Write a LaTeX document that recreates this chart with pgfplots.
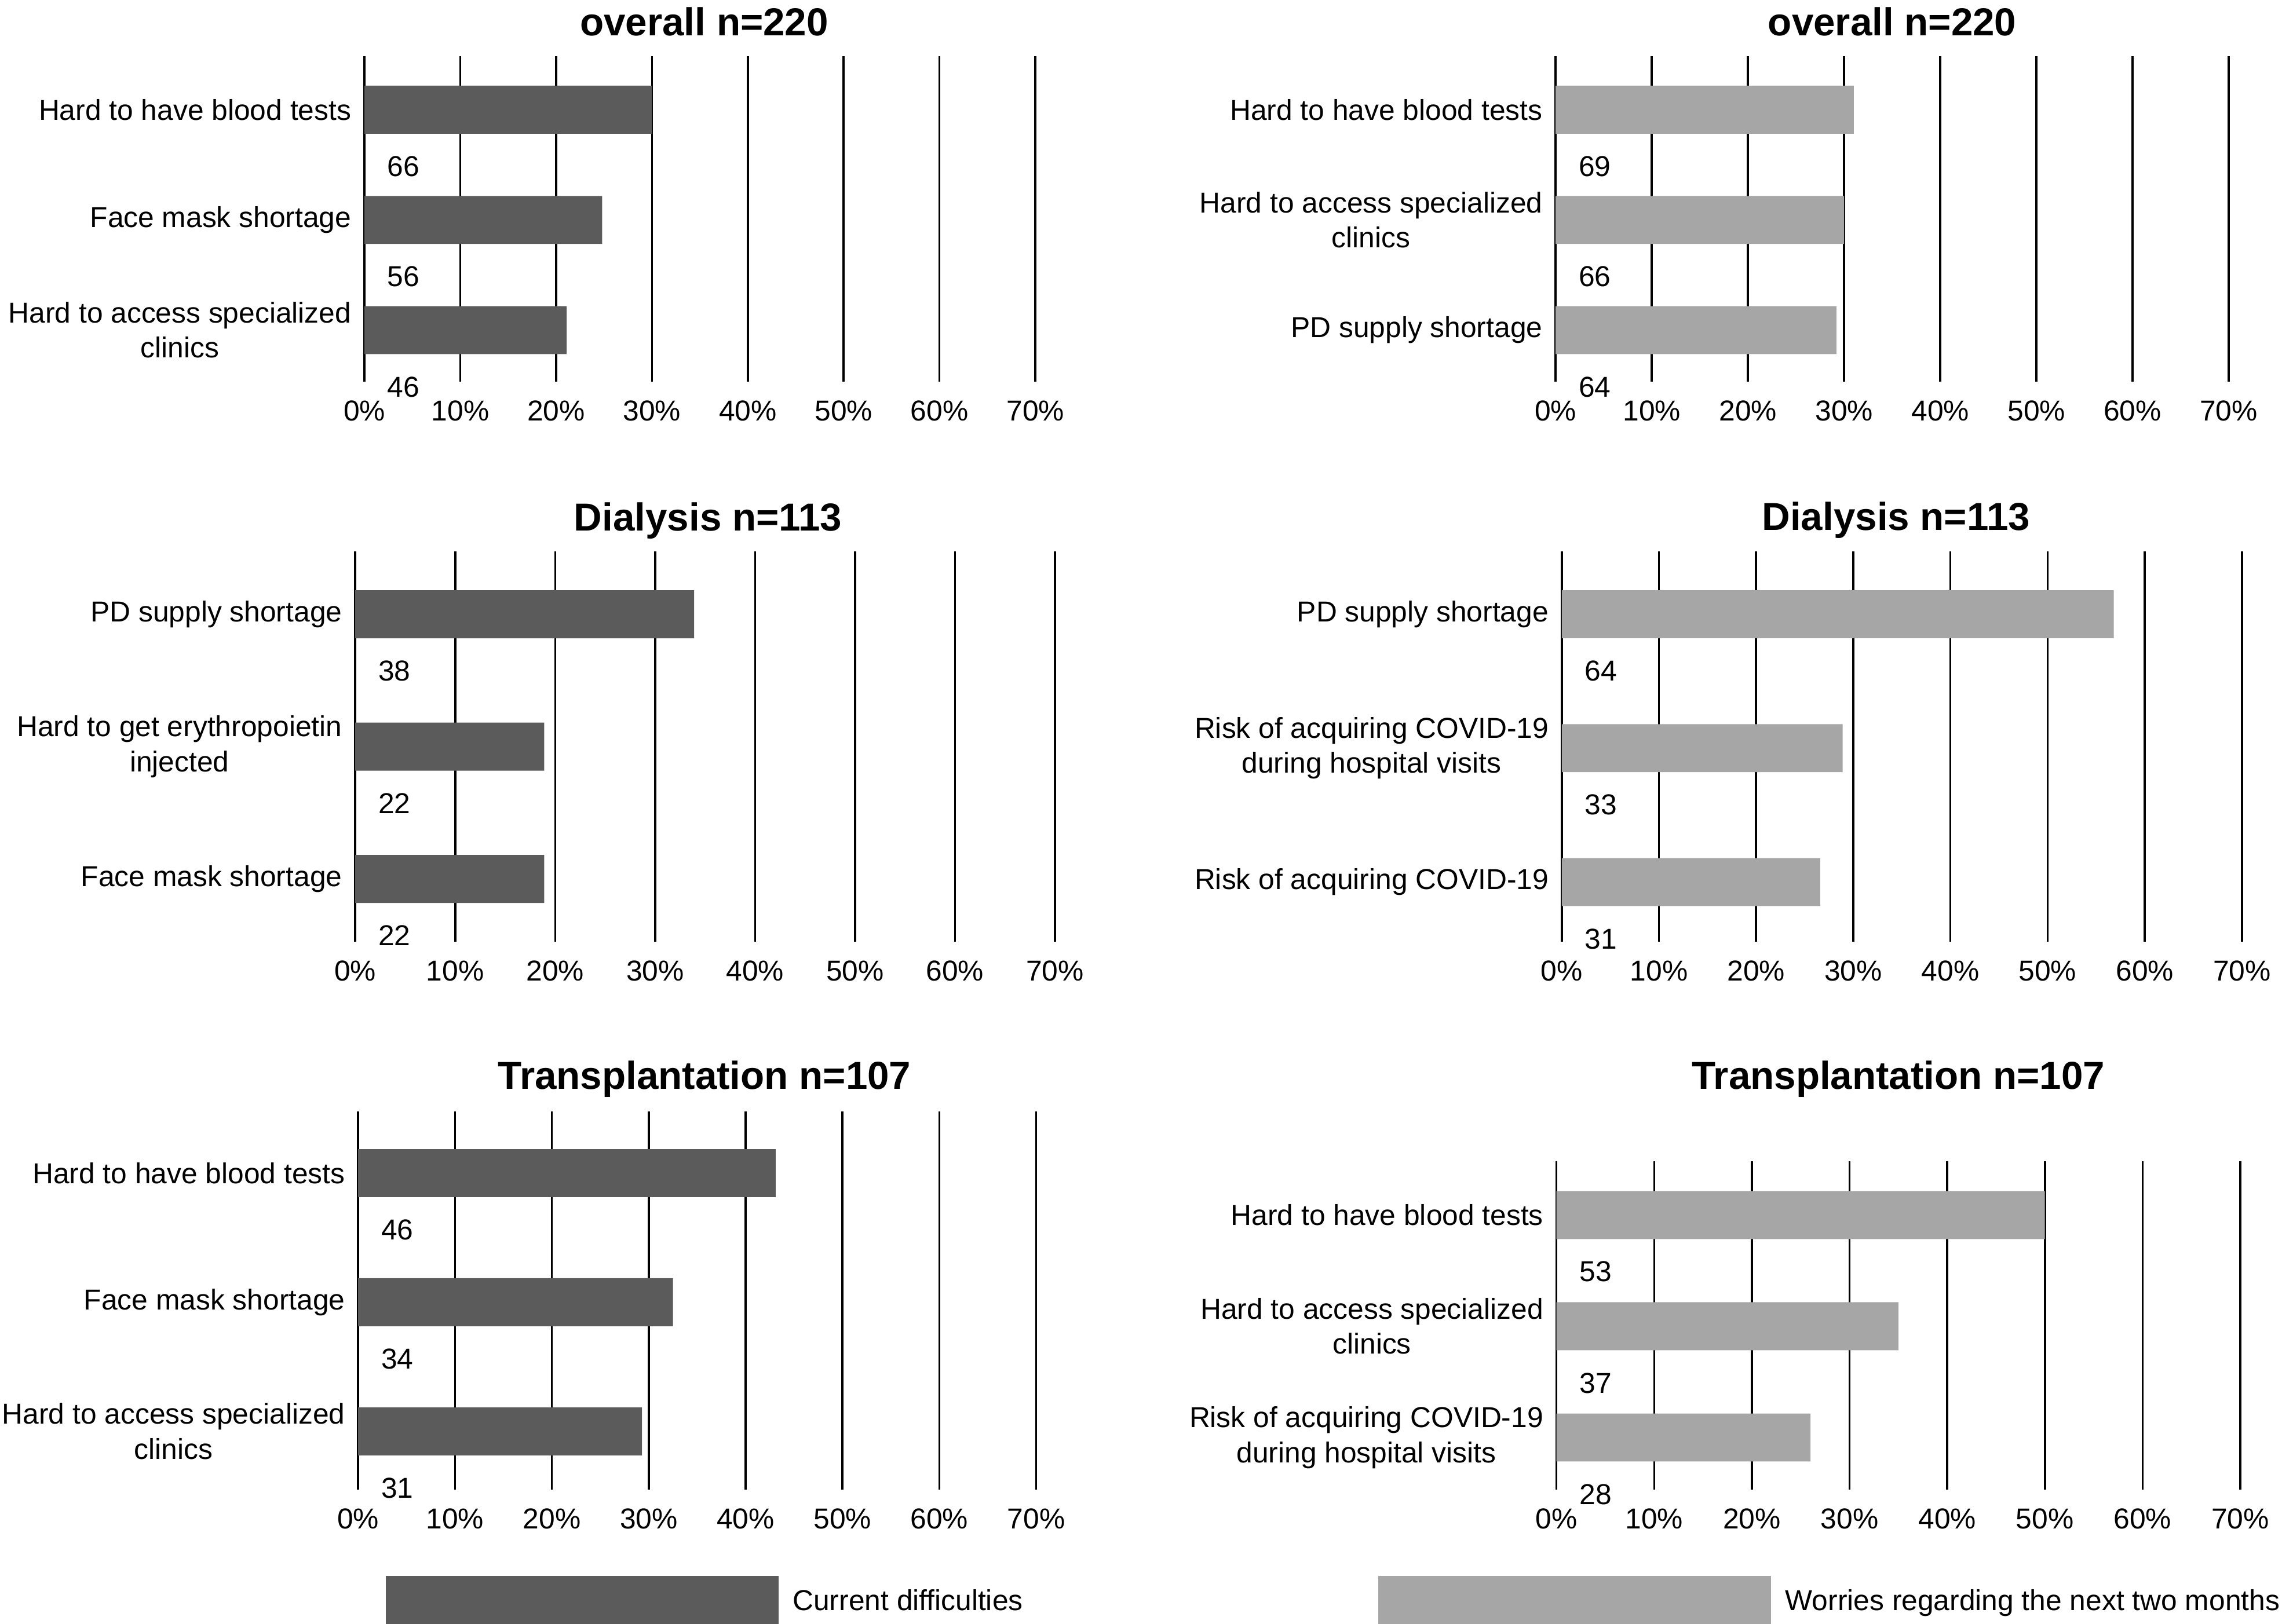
\documentclass[border=0pt]{standalone}
\usepackage{pgfplots}
\pgfplotsset{compat=1.18}
\usepackage{fontspec}
\setmainfont{Liberation Sans}
\definecolor{dark}{RGB}{91,91,91}
\definecolor{light}{RGB}{166,166,166}
\newcommand{\tf}{\fontsize{9.9}{12}\selectfont}
\pgfplotsset{
  panel/.style={
    scale only axis, anchor=south west, clip=false,
    xmin=0, xmax=70, xtick={0,10,...,70},
    xticklabels={0\%,10\%,20\%,30\%,40\%,50\%,60\%,70\%},
    xmajorgrids, grid style={black, line width=0.7pt},
    axis line style={draw=none}, major tick length=0pt, tick style={draw=none},
    ytick={1,2,3},
    yticklabel style={align=center, font=\tf, xshift=-1pt},
    xticklabel style={font=\tf, anchor=center, yshift=-10pt},
    title style={font=\bfseries\fontsize{13.4}{15}\selectfont, anchor=center, at={(0.5,1)}, yshift=4.6pt},
    /pgf/number format/assume math mode=true,
  },
  cnt/.style={draw=none, mark=none, forget plot, nodes near coords, point meta=explicit symbolic,
    every node near coord/.append style={anchor=west, inner sep=0pt, xshift=7.75pt, yshift=-19.5pt, font=\tf, text=black}},
  bars/.style={xbar, bar width=16.5pt, bar shift=0pt, draw=none, fill=#1},
  lgd/.style={legend image code/.code={\fill[#1] (0pt,-7.4pt) rectangle (135pt,9.1pt);}},
}
\begin{document}
\begin{tikzpicture}
\path[use as bounding box] (0,0) rectangle (784pt,558pt);

% Top left
\begin{axis}[panel, at={(125.2pt,426.75pt)}, width=230.5pt, height=111.95pt,
  ymin=0.530, ymax=3.486, title={overall n=220}, title style={xshift=1.5pt, yshift=1.2pt},
  yticklabels={{Hard to access specialized\\clinics},{Face mask shortage},{Hard to have blood tests}}]
\addplot[bars=dark] coordinates {(30.0,3) (24.8,2) (21.1,1)};
\addplot[cnt] coordinates {(0,3) [66] (0,2) [56] (0,1) [46]};
\end{axis}

% Top right
\begin{axis}[panel, at={(534.45pt,426.75pt)}, width=231.25pt, height=111.95pt,
  ymin=0.530, ymax=3.486, title={overall n=220}, title style={yshift=1.2pt},
  yticklabels={{PD supply shortage},{Hard to access specialized\\clinics},{Hard to have blood tests}}]
\addplot[bars=light] coordinates {(31.0,3) (30.0,2) (29.2,1)};
\addplot[cnt] coordinates {(0,3) [69] (0,2) [66] (0,1) [64]};
\end{axis}

% Middle left
\begin{axis}[panel, at={(122.05pt,234.3pt)}, width=240.4pt, height=134.25pt,
  ymin=0.524, ymax=3.476, title={Dialysis n=113}, title style={xshift=1pt},
  yticklabels={{Face mask shortage},{Hard to get erythropoietin\\injected},{PD supply shortage}}]
\addplot[bars=dark] coordinates {(33.9,3) (18.9,2) (18.9,1)};
\addplot[cnt] coordinates {(0,3) [38] (0,2) [22] (0,1) [22]};
\end{axis}

% Middle right
\begin{axis}[panel, at={(536.55pt,234.3pt)}, width=233.7pt, height=134.25pt,
  ymin=0.553, ymax=3.470, title={Dialysis n=113}, title style={xshift=-2pt},
  yticklabels={{Risk of acquiring COVID-19},{Risk of acquiring COVID-19\\during hospital visits},{PD supply shortage}}]
\addplot[bars=light] coordinates {(56.8,3) (28.9,2) (26.6,1)};
\addplot[cnt] coordinates {(0,3) [64] (0,2) [33] (0,1) [31]};
\end{axis}

% Bottom left
\begin{axis}[panel, at={(123.05pt,46.15pt)}, width=232.95pt, height=130pt,
  ymin=0.550, ymax=3.480, title={Transplantation n=107}, title style={yshift=0.5pt, xshift=2.5pt},
  yticklabels={{Hard to access specialized\\clinics},{Face mask shortage},{Hard to have blood tests}},
  legend style={at={(0.0404,-0.2915)}, anchor=west, draw=none, fill=none, inner sep=0pt, outer sep=0pt,
    nodes={inner sep=0pt}, column sep=4.9pt, font=\tf},
  legend cell align=left]
\addplot[bars=dark, lgd] coordinates {(43.1,3) (32.5,2) (29.3,1)};
\addlegendentry{Current difficulties}
\addplot[cnt] coordinates {(0,3) [46] (0,2) [34] (0,1) [31]};
\end{axis}

% Bottom right
\begin{axis}[panel, at={(534.75pt,46.15pt)}, width=234.9pt, height=112.8pt,
  ymin=0.533, ymax=3.484, title={Transplantation n=107}, title style={yshift=17.7pt},
  yticklabels={{Risk of acquiring COVID-19\\during hospital visits},{Hard to access specialized\\clinics},{Hard to have blood tests}},
  legend style={at={(-0.2608,-0.336)}, anchor=west, draw=none, fill=none, inner sep=0pt, outer sep=0pt,
    nodes={inner sep=0pt}, column sep=4.9pt, font=\tf},
  legend cell align=left]
\addplot[bars=light, lgd] coordinates {(50.0,3) (35.0,2) (26.0,1)};
\addlegendentry{Worries regarding the next two months}
\addplot[cnt] coordinates {(0,3) [53] (0,2) [37] (0,1) [28]};
\end{axis}
\end{tikzpicture}
\end{document}
